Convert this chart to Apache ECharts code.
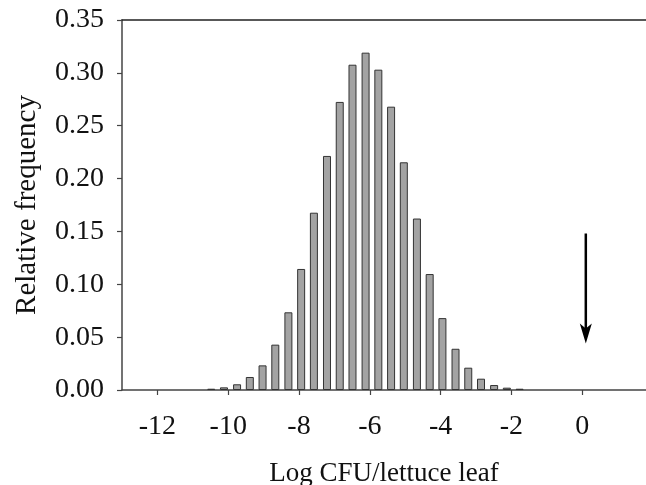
<!DOCTYPE html>
<html>
<head>
<meta charset="utf-8">
<script src="https://cdn.jsdelivr.net/npm/echarts@6/dist/echarts.min.js"></script>
<style>
html, body { margin: 0; padding: 0; background: #fff; }
#main { width: 646px; height: 485px; }
</style>
</head>
<body>
<div id="main"></div>
<script>
// bin centres (log CFU) and relative frequency
var binCenters = [-10.48, -10.12, -9.75, -9.39, -9.03, -8.67, -8.30, -7.94, -7.58, -7.21,
    -6.85, -6.49, -6.12, -5.76, -5.40, -5.04, -4.67, -4.31, -3.95, -3.58,
    -3.22, -2.86, -2.49, -2.13, -1.77];
var relFreq = [0.0012, 0.0025, 0.0054, 0.0123, 0.0233, 0.0429, 0.0735, 0.1145, 0.1677, 0.2214,
    0.2725, 0.3077, 0.3191, 0.3030, 0.2680, 0.2154, 0.1622, 0.1097, 0.0680, 0.0390,
    0.0211, 0.0107, 0.0047, 0.0022, 0.0012];
// arrow marking 0 log CFU (shaft start, tip)
var arrowFrom = [0.1, 0.148];
var arrowTo = [0.1, 0.044];

var fontFamily = 'Liberation Serif';
var axisColor = '#444';

var myChart = echarts.init(document.getElementById('main'));

var option = {
    backgroundColor: '#fff',
    animation: false,
    grid: {
        left: 122,
        top: 20,
        right: 0,
        bottom: 95,
        outerBoundsMode: 'none'
    },
    xAxis: [
        {
            type: 'value',
            min: -13,
            max: 1.8,
            splitNumber: 7,
            name: 'Log CFU/lettuce leaf',
            nameLocation: 'middle',
            nameGap: 70,
            nameTextStyle: {
                fontFamily: fontFamily,
                fontSize: 27,
                color: '#111'
            },
            axisLine: {
                onZero: false,
                lineStyle: { color: axisColor, width: 1.5 }
            },
            axisTick: {
                show: true,
                inside: false,
                length: 5,
                lineStyle: { color: axisColor, width: 1.2 }
            },
            axisLabel: {
                showMinLabel: false,
                showMaxLabel: false,
                margin: 23,
                fontFamily: fontFamily,
                fontSize: 28,
                color: '#111'
            },
            splitLine: { show: false }
        },
        {
            type: 'value',
            position: 'top',
            min: -13,
            max: 1.8,
            axisLine: {
                show: true,
                onZero: false,
                lineStyle: { color: '#222', width: 1.5 }
            },
            axisTick: { show: false },
            axisLabel: { show: false },
            splitLine: { show: false }
        }
    ],
    yAxis: {
        type: 'value',
        min: 0,
        max: 0.35,
        interval: 0.05,
        name: 'Relative frequency',
        nameLocation: 'middle',
        nameGap: 80,
        nameTextStyle: {
            fontFamily: fontFamily,
            fontSize: 29,
            color: '#111'
        },
        axisLine: {
            show: true,
            onZero: false,
            lineStyle: { color: axisColor, width: 1.5 }
        },
        axisTick: {
            show: true,
            length: 5,
            lineStyle: { color: axisColor, width: 1.2 }
        },
        axisLabel: {
            margin: 18,
            fontFamily: fontFamily,
            fontSize: 28,
            color: '#111',
            formatter: function (v) {
                return v.toFixed(2);
            }
        },
        splitLine: { show: false }
    },
    series: [
        {
            type: 'bar',
            barWidth: 8,
            itemStyle: {
                color: '#a3a3a3',
                borderColor: '#333',
                borderWidth: 1
            },
            data: binCenters.map(function (x, i) {
                return [x, relFreq[i]];
            })
        },
        {
            // arrow shaft
            type: 'line',
            symbol: 'none',
            lineStyle: { color: '#000', width: 2.5 },
            data: [arrowFrom, [arrowTo[0], arrowTo[1] + 0.006]]
        },
        {
            // arrow head, tip at arrowTo
            type: 'scatter',
            symbol: 'path://M0,0 L6,5 L12,0 L6,20 Z',
            symbolSize: [12, 20],
            symbolOffset: [0, -10],
            itemStyle: { color: '#000', opacity: 1 },
            data: [arrowTo]
        }
    ]
};

myChart.setOption(option);
</script>
</body>
</html>
